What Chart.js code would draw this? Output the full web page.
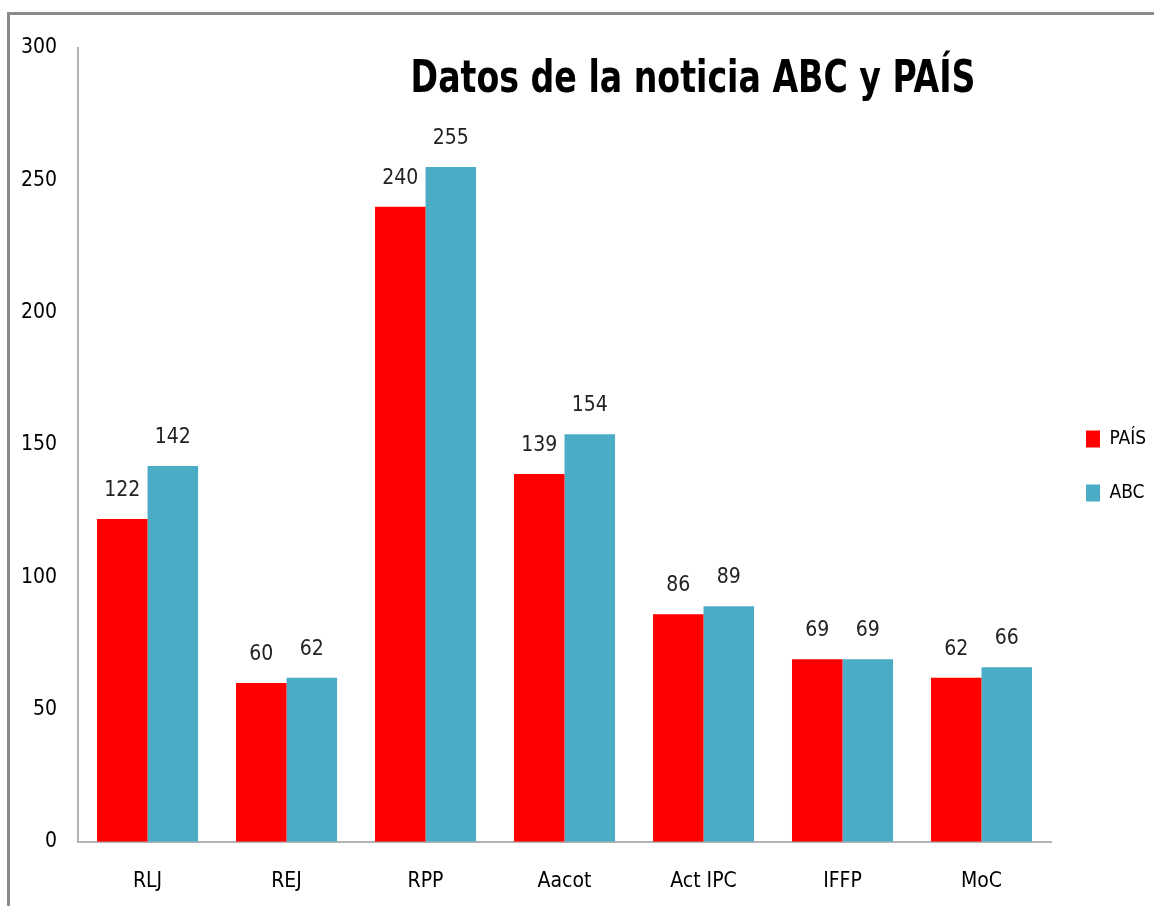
<!DOCTYPE html>
<html>
<head>
<meta charset="utf-8">
<script src="https://cdn.jsdelivr.net/npm/chart.js@4.4.0/dist/chart.umd.min.js"></script>
<style>
  html, body { margin: 0; padding: 0; background: #fff; }
  #wrap { width: 1154px; height: 906px; position: relative; }
</style>
</head>
<body>
<div id="wrap"><canvas id="myBars" width="1154" height="906"></canvas></div>
<script>
const categories = ["RLJ", "REJ", "RPP", "Aacot", "Act IPC", "IFFP", "MoC"];
const paisValues = [122, 60, 240, 139, 86, 69, 62];
const abcValues = [142, 62, 255, 154, 89, 69, 66];
const yTicks = [0, 50, 100, 150, 200, 250, 300];
const chartTitle = "Datos de la noticia ABC y PAÍS";

const FONT = "'Liberation Sans Narrow', 'DejaVu Sans Condensed', sans-serif";

// outer frame (top + left edge only, rest is cut off in the picture)
const framePlugin = {
  id: "frame",
  beforeDraw(chart) {
    const ctx = chart.ctx;
    ctx.save();
    ctx.fillStyle = "#fff";
    ctx.fillRect(0, 0, chart.width, chart.height);
    ctx.strokeStyle = "#8a8a8a";
    ctx.lineWidth = 3;
    ctx.beginPath();
    ctx.moveTo(8.5, chart.height);
    ctx.lineTo(8.5, 13.5);
    ctx.lineTo(chart.width, 13.5);
    ctx.stroke();
    ctx.restore();
  }
};

// title sits inside the plot area, right of centre (squeezed a bit, the original font is narrower)
const titlePlugin = {
  id: "ownTitle",
  afterDraw(chart) {
    const ctx = chart.ctx;
    ctx.save();
    ctx.translate(693, 80);
    ctx.scale(0.82, 1);
    ctx.font = "bold 45px " + FONT;
    ctx.fillStyle = "#000";
    ctx.textAlign = "center";
    ctx.textBaseline = "middle";
    ctx.fillText(chartTitle, 0, 0);
    ctx.restore();
  }
};

// value labels above each bar
const valuePlugin = {
  id: "values",
  afterDatasetsDraw(chart) {
    const ctx = chart.ctx;
    ctx.save();
    ctx.font = "21px " + FONT;
    ctx.fillStyle = "#222";
    ctx.textAlign = "center";
    ctx.textBaseline = "bottom";
    chart.data.datasets.forEach((ds, i) => {
      chart.getDatasetMeta(i).data.forEach((bar, j) => {
        ctx.fillText(ds.data[j], bar.x, bar.y - 18);
      });
    });
    ctx.restore();
  }
};

new Chart(document.getElementById("myBars").getContext("2d"), {
  type: "bar",
  data: {
    labels: categories,
    datasets: [
      { label: "PAÍS", data: paisValues, backgroundColor: "#ff0000", borderWidth: 0 },
      { label: "ABC", data: abcValues, backgroundColor: "#4bacc6", borderWidth: 0 }
    ]
  },
  options: {
    responsive: false,
    animation: false,
    devicePixelRatio: 1,
    layout: { padding: { top: 48, left: 0, right: 0, bottom: -15 } },
    datasets: { bar: { barPercentage: 1, categoryPercentage: 0.727 } },
    plugins: {
      title: { display: false },
      tooltip: { enabled: false },
      legend: {
        display: true,
        position: "right",
        fullSize: false,
        maxWidth: 103,
        // empty title only pushes the items down a little
        title: { display: true, text: "", font: { size: 10, lineHeight: 1.2 }, padding: 15 },
        labels: {
          font: { family: FONT, size: 19 },
          color: "#000",
          boxWidth: 14,
          boxHeight: 17,
          padding: 35
        }
      }
    },
    scales: {
      x: {
        grid: { display: false, drawTicks: false },
        border: { display: true, color: "#b3b3b3", width: 2 },
        ticks: { font: { family: FONT, size: 21 }, color: "#000", padding: 27 }
      },
      y: {
        min: 0,
        max: 300,
        afterBuildTicks(axis) { axis.ticks = yTicks.map(v => ({ value: v })); },
        grid: { display: false, drawTicks: false },
        border: { display: true, color: "#b3b3b3", width: 2 },
        ticks: { font: { family: FONT, size: 21 }, color: "#000", padding: 21 }
      }
    }
  },
  plugins: [framePlugin, titlePlugin, valuePlugin]
});
</script>
</body>
</html>
